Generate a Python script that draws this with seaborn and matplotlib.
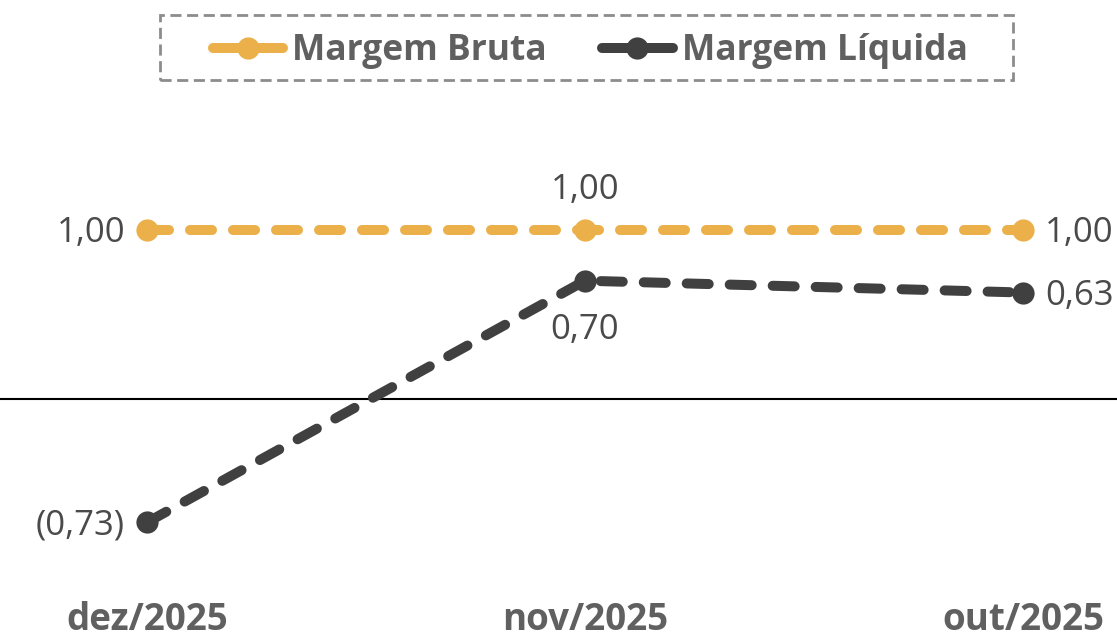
import matplotlib

matplotlib.use("Agg")

import matplotlib.pyplot as plt
import pandas as pd
import seaborn as sns
from matplotlib.patches import Rectangle

# Dados do gráfico
meses = ["dez/2025", "nov/2025", "out/2025"]
margem_bruta = [1.00, 1.00, 1.00]
margem_liquida = [-0.73, 0.70, 0.63]
series = ["Margem Bruta", "Margem Líquida"]
cores = {"Margem Bruta": "#EBB04A", "Margem Líquida": "#404040"}

sns.set_theme(style="white")
plt.rcParams["font.family"] = ["Open Sans", "DejaVu Sans"]


def formata(v):
    """Formato brasileiro: vírgula decimal e negativo entre parênteses."""
    txt = f"{abs(v):.2f}".replace(".", ",")
    return f"({txt})" if v < 0 else txt


df = pd.DataFrame({
    "mes": meses * 2,
    "serie": [series[0]] * 3 + [series[1]] * 3,
    "valor": margem_bruta + margem_liquida,
})

fig = plt.figure(figsize=(11.17, 6.4), dpi=100)
ax = fig.add_axes([0, 40 / 640, 1, 600 / 640])

sns.lineplot(
    data=df, x="mes", y="valor", hue="serie", style="serie",
    palette=cores, dashes={s: (2.2, 2.1) for s in series},
    markers={s: "o" for s in series}, markersize=16, markeredgewidth=0,
    linewidth=7.2, dash_capstyle="round", errorbar=None, sort=False,
    legend=True, ax=ax,
)

# Linha do zero
ax.axhline(0, color="black", linewidth=1.5, zorder=0)

# Escalas
ax.set_xlim(-147 / 438, 2 + 94 / 438)
ax.set_ylim(-(600 - 399) / 169, 399 / 169)

# Rótulos de dados
desloc = {
    "Margem Bruta": [(-22, -3, "right", "center"), (0, 40, "center", "center"), (22, -3, "left", "center")],
    "Margem Líquida": [(-22, -3, "right", "center"), (0, -49, "center", "center"), (22, -3, "left", "center")],
}
for serie, valores in zip(series, [margem_bruta, margem_liquida]):
    for i, v in enumerate(valores):
        dx, dy, ha, va = desloc[serie][i]
        ax.annotate(
            formata(v), (i, v), xytext=(dx, dy), textcoords="offset pixels",
            ha=ha, va=va, fontsize=25, color="#4A4A4A",
        )

ax.set_xticks(range(len(meses)), meses)
ax.tick_params(axis="x", length=0, pad=1, labelsize=26.5, labelcolor="#606060")
for lbl in ax.get_xticklabels():
    lbl.set_fontweight("bold")
ax.set_yticks([])
ax.set_xlabel("")
ax.set_ylabel("")
sns.despine(ax=ax, left=True, bottom=True)

# Legenda (sem moldura própria; moldura tracejada desenhada à parte)
handles, labels = ax.get_legend_handles_labels()
leg = ax.legend(
    handles, labels, loc="center", bbox_to_anchor=(590 / 1117, 1 - 51 / 640),
    bbox_transform=fig.transFigure, ncol=2, frameon=False,
    prop={"size": 25.5, "weight": "bold"}, handlelength=2.0, handletextpad=0.25,
    columnspacing=1.55,
)
for t in leg.get_texts():
    t.set_color("#606060")
for ln in leg.get_lines():
    ln.set_linestyle("-")
    ln.set_solid_capstyle("round")

fig.patches.append(Rectangle(
    (160 / 1117, 1 - 80 / 640), (1013 - 160) / 1117, 65 / 640,
    transform=fig.transFigure, fill=False, edgecolor="#8C8C8C",
    linewidth=2, linestyle=(0, (4, 2)),
))

plt.savefig("out.png", dpi=100)
plt.close()
